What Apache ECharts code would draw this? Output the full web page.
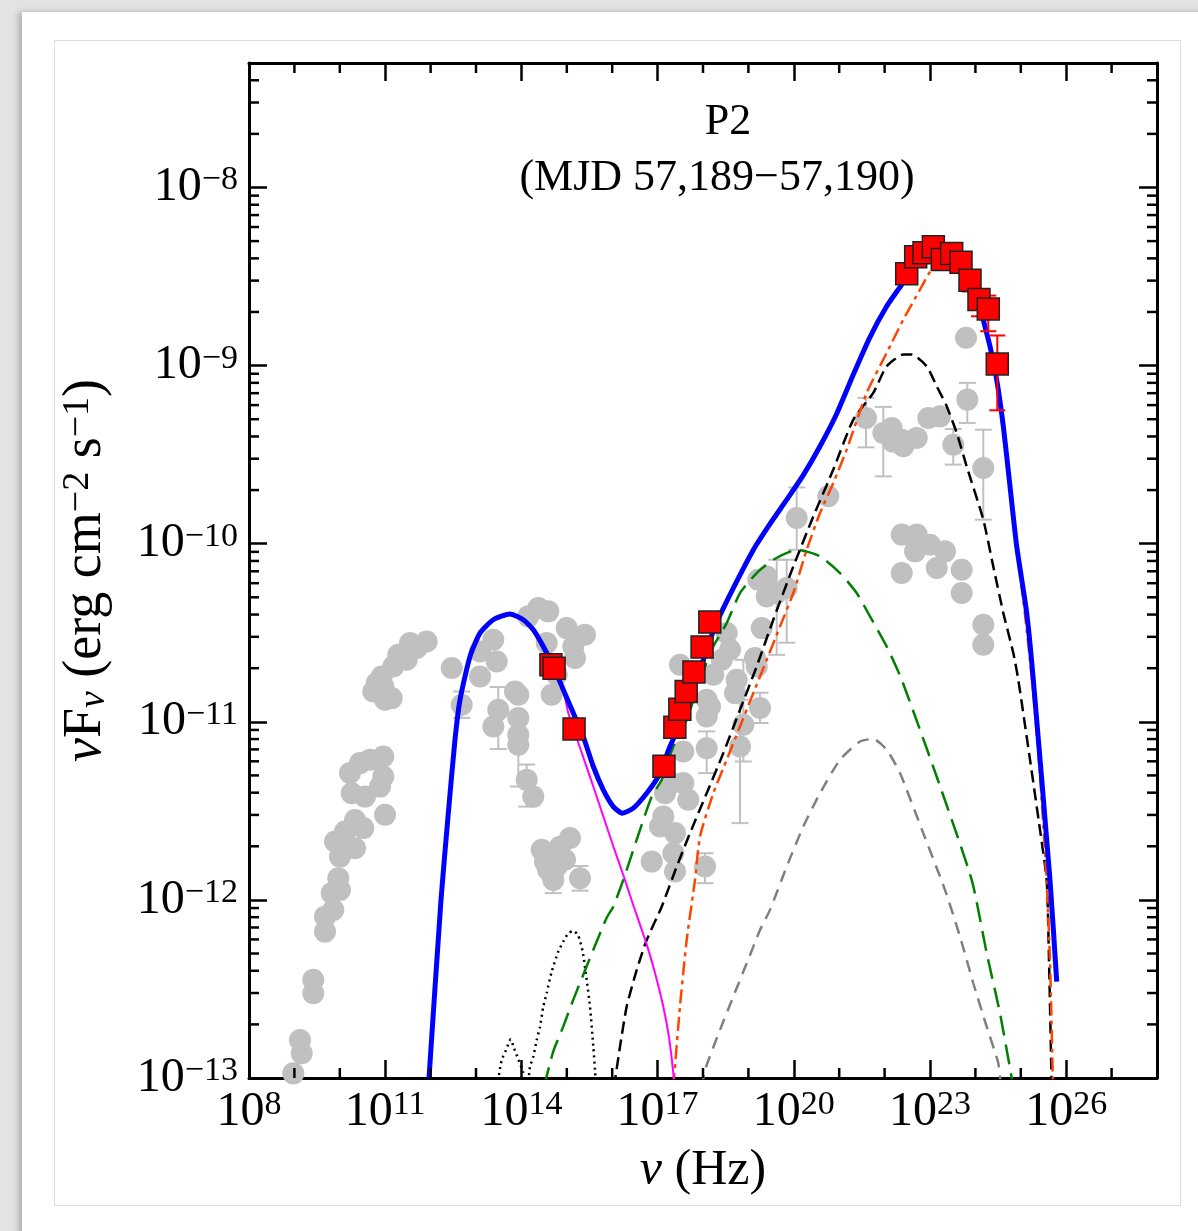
<!DOCTYPE html>
<html><head><meta charset="utf-8">
<script src="https://cdn.jsdelivr.net/npm/echarts@6/dist/echarts.min.js"></script>
<style>
html,body{margin:0;padding:0;width:1198px;height:1231px;overflow:hidden;background:#e3e3e3;}
#card{position:absolute;left:22px;top:12px;width:1200px;height:1240px;background:#fff;box-shadow:-4px 0 6px rgba(0,0,0,0.22);}
#frame{position:absolute;left:54px;top:40px;width:1125px;height:1164px;border:1px solid #dcdcdc;}
#chart{position:absolute;left:0;top:0;width:1198px;height:1231px;}
</style></head>
<body><div id="card"></div><div id="frame"></div><div id="chart"></div>
<script>
// ---- data (log10(nu [Hz]), log10(nuFnu [erg cm^-2 s^-1])) ----
const blueModel = [[11.965,-13.0],[12.229,-12.0],[12.390,-11.513],[12.537,-11.101],[12.648,-10.876],[12.868,-10.633],[13.088,-10.502],[13.381,-10.427],[13.749,-10.395],[14.042,-10.427],[14.262,-10.483],[14.482,-10.577],[14.703,-10.689],[14.923,-10.820],[15.143,-10.951],[15.363,-11.083],[15.584,-11.251],[15.804,-11.382],[16.024,-11.476],[16.222,-11.513],[16.465,-11.485],[16.760,-11.401],[17.015,-11.307],[17.273,-11.139],[17.566,-10.970],[17.934,-10.708],[18.264,-10.465],[18.667,-10.250],[19.108,-10.035],[19.476,-9.889],[19.844,-9.753],[20.209,-9.615],[20.577,-9.453],[20.945,-9.270],[21.311,-9.050],[21.678,-8.840],[22.046,-8.667],[22.377,-8.545],[22.670,-8.433],[23.066,-8.348],[23.441,-8.375],[23.771,-8.461],[24.057,-8.601],[24.174,-8.742],[24.322,-8.892],[24.469,-9.079],[24.615,-9.341],[24.762,-9.678],[24.910,-10.015],[25.130,-10.389],[25.275,-10.764],[25.643,-11.888],[25.791,-12.459]];
const synModel = [[11.965,-13.0],[12.229,-12.0],[12.390,-11.513],[12.537,-11.101],[12.648,-10.876],[12.868,-10.633],[13.088,-10.502],[13.381,-10.427],[13.749,-10.395],[14.042,-10.427],[14.262,-10.483],[14.482,-10.577],[14.703,-10.689],[14.923,-10.820],[15.033,-10.951],[15.584,-11.363],[16.024,-11.699],[16.244,-11.860],[16.465,-12.030],[16.760,-12.250],[16.943,-12.410],[17.126,-12.600],[17.250,-12.770],[17.346,-12.974],[17.361,-13.05]];
const diskModel = [[13.463,-13.05],[13.566,-12.899],[13.661,-12.843],[13.764,-12.783],[13.837,-12.833],[13.932,-12.895],[14.035,-12.966],[14.079,-13.05],[14.13,-13.05],[14.189,-12.937],[14.262,-12.880],[14.337,-12.787],[14.410,-12.712],[14.482,-12.599],[14.557,-12.524],[14.667,-12.403],[14.813,-12.290],[14.923,-12.234],[15.033,-12.187],[15.143,-12.174],[15.247,-12.197],[15.350,-12.290],[15.438,-12.449],[15.511,-12.599],[15.584,-12.824],[15.621,-12.955],[15.643,-13.05]];
const sscModel = [[14.498,-13.05],[14.703,-12.85],[14.923,-12.71],[15.143,-12.56],[15.363,-12.42],[15.584,-12.28],[15.879,-12.10],[16.024,-12.038],[16.244,-11.888],[16.612,-11.607],[16.870,-11.420],[17.090,-11.326],[17.346,-11.139],[17.641,-10.989],[17.934,-10.764],[18.227,-10.577],[18.522,-10.446],[18.815,-10.277],[19.183,-10.165],[19.548,-10.090],[20.064,-10.034],[20.577,-10.071],[21.018,-10.165],[21.385,-10.277],[21.678,-10.408],[22.046,-10.577],[22.377,-10.764],[23.15,-11.31],[23.918,-11.888],[24.249,-12.299],[24.542,-12.637],[24.835,-13.05]];
const ecBlrModel = [[16.040,-13.05],[16.172,-12.824],[16.319,-12.599],[16.540,-12.393],[16.760,-12.225],[17.090,-12.038],[17.421,-11.813],[17.714,-11.625],[18.081,-11.401],[18.447,-11.176],[18.815,-10.933],[19.183,-10.689],[19.548,-10.427],[19.989,-10.128],[20.430,-9.847],[20.870,-9.584],[21.311,-9.303],[21.751,-9.153],[22.046,-9.004],[22.412,-8.938],[22.597,-8.938],[22.927,-9.004],[23.148,-9.116],[23.368,-9.228],[23.588,-9.378],[23.808,-9.566],[24.174,-9.865],[24.394,-10.128],[24.615,-10.389],[24.835,-10.614],[24.945,-10.764],[25.203,-11.213],[25.423,-11.607],[25.570,-11.888],[25.621,-12.337],[25.680,-13.05]];
const ecDtModel = [[17.346,-13.05],[17.493,-12.599],[17.641,-12.225],[17.824,-11.888],[17.934,-11.644],[18.227,-11.401],[18.522,-11.213],[18.815,-11.026],[19.108,-10.839],[19.403,-10.652],[19.696,-10.465],[19.989,-10.277],[20.284,-10.034],[20.577,-9.828],[20.870,-9.659],[21.165,-9.472],[21.606,-9.153],[22.046,-8.929],[22.412,-8.742],[22.780,-8.573],[23.073,-8.442],[23.330,-8.375],[23.661,-8.416],[23.991,-8.573],[24.211,-8.770],[24.432,-9.051],[24.608,-9.360],[24.762,-9.697],[24.916,-10.022],[25.093,-10.399],[25.269,-10.820],[25.423,-11.298],[25.555,-11.831],[25.643,-12.337],[25.709,-13.05]];
const ecDiskModel = [[17.978,-13.05],[18.044,-12.955],[18.374,-12.730],[18.667,-12.543],[18.963,-12.356],[19.256,-12.169],[19.476,-12.056],[19.844,-11.813],[20.209,-11.588],[20.577,-11.401],[21.018,-11.213],[21.458,-11.111],[21.751,-11.096],[22.046,-11.157],[22.339,-11.288],[22.824,-11.607],[23.330,-11.944],[23.661,-12.206],[23.954,-12.468],[24.249,-12.712],[24.504,-12.917],[24.564,-13.05]];

const archivePoints = [
 [11.914,-10.549],[11.694,-10.586],[11.546,-10.558],[11.289,-10.624],[11.474,-10.652],[11.178,-10.689],[10.923,-10.746],[10.813,-10.783],[10.738,-10.830],[10.996,-10.876],[11.143,-10.867],[10.958,-10.802],[12.465,-10.698],[12.685,-10.904],
 [10.958,-11.195],[10.665,-11.213],[10.445,-11.232],[10.225,-11.288],[10.262,-11.401],[10.555,-11.420],[10.885,-11.364],[10.958,-11.307],[10.996,-11.522],[10.335,-11.551],[10.518,-11.597],[10.115,-11.616],[9.894,-11.672],[10.335,-11.710],[10.004,-11.757],[9.967,-11.878],[10.004,-11.944],[9.822,-11.962],[9.857,-12.056],[9.674,-12.094],[9.674,-12.178],[9.416,-12.449],[9.416,-12.524],[9.123,-12.787],[9.161,-12.861],[8.976,-12.974],
 [13.088,-10.746],[13.381,-10.539],[13.088,-10.605],[13.456,-10.661],[14.372,-10.361],[14.592,-10.380],[14.152,-10.408],[14.557,-10.558],[14.998,-10.474],[15.401,-10.511],[15.143,-10.577],[15.181,-10.642],[14.778,-10.736],[14.667,-10.848],[13.859,-10.830],[13.932,-10.848],[13.491,-10.933],[13.381,-11.026],[13.932,-10.979],[13.932,-11.073],[13.932,-11.129],[14.117,-11.326],[14.262,-11.420],[14.447,-11.719],[14.630,-11.757],[14.778,-11.813],[14.703,-11.888],[15.070,-11.653],[14.850,-11.701],[15.291,-11.878],[14.960,-11.775],[14.520,-11.787],[14.586,-11.831],
 [19.218,-10.202],[19.403,-10.184],[19.844,-10.249],[19.403,-10.296],[19.293,-10.474],[18.522,-10.502],[18.595,-10.596],[17.493,-10.680],[18.412,-10.652],[19.145,-10.642],[19.183,-10.689],[18.227,-10.736],[18.742,-10.764],[18.081,-10.876],[18.705,-10.839],[18.154,-10.914],[19.256,-10.923],[18.081,-10.970],[18.888,-11.017],[17.566,-11.167],[18.081,-11.148],[18.815,-11.139],[17.311,-11.344],[17.566,-11.344],[17.676,-11.438],[17.163,-11.401],[17.126,-11.532],[17.053,-11.588],[17.383,-11.625],[17.346,-11.738],[16.870,-11.785],[17.383,-11.841],[18.044,-11.813],[19.623,-10.277],
 [20.064,-9.856],[20.760,-9.734],[21.590,-9.294],[21.971,-9.378],[22.156,-9.350],[22.377,-9.416],[22.707,-9.406],[22.412,-9.453],[22.185,-9.427],[22.963,-9.294],[23.220,-9.285],[23.513,-9.444],[23.793,-8.844],[23.822,-9.191],[24.174,-9.575],
 [22.377,-9.949],[22.707,-9.949],[23.000,-10.006],[23.330,-10.043],[22.670,-10.043],[22.377,-10.165],[23.148,-10.137],[23.698,-10.146],[23.698,-10.277],[24.174,-10.455],[24.174,-10.567]
];
// [log nu, log low, log high]
const archiveErrors = [[12.685,-10.978,-10.830],[13.491,-11.153,-10.805],[13.932,-11.363,-10.978],[14.117,-11.476,-11.24],[14.703,-11.962,-11.82],[15.291,-11.948,-11.81],[19.256,-11.007,-10.837],[18.888,-11.223,-10.652],[18.081,-11.288,-11.054],[18.815,-11.569,-10.876],[18.044,-11.906,-11.738],[19.623,-10.624,-10.090],[19.844,-10.556,-10.090],[20.064,-10.034,-9.684],[21.590,-9.459,-9.181],[21.971,-9.622,-9.232],[23.513,-9.556,-9.356],[23.822,-9.322,-9.097],[24.174,-9.865,-9.360]];
const p2Points = [[14.65,-10.68],[14.72,-10.70],[15.16,-11.04],[17.14,-11.25],[17.38,-11.03],[17.49,-10.93],[17.63,-10.83],[17.80,-10.72],[17.98,-10.58],[18.15,-10.44],[22.487,-8.485],[22.685,-8.389],[22.868,-8.367],[23.073,-8.333],[23.271,-8.404],[23.478,-8.371],[23.683,-8.420],[23.881,-8.521],[24.079,-8.629],[24.284,-8.682],[24.482,-8.991]];
const p2Errors = [[23.881,-8.584,-8.472],[24.079,-8.723,-8.577],[24.284,-8.807,-8.607],[24.482,-9.251,-8.831]];

// axis ranges and ticks
const X_MIN = 1e8, X_MAX = 1e28, Y_MIN = 1e-13, Y_MAX = 5e-8;
const xMinorTicks = [1e9,1e10,1e12,1e13,1e15,1e16,1e18,1e19,1e21,1e22,1e24,1e25,1e27];
const yMinorTicks = [];
[-13,-12,-11,-10,-9,-8].forEach(e => [2,3,4,5,6,7,8,9].forEach(k => { const v = k*Math.pow(10,e); if (v < Y_MAX*0.99) yMinorTicks.push(v); }));

const P = a => a.map(p => [Math.pow(10,p[0]), Math.pow(10,p[1])]);
const PE = a => a.map(p => [Math.pow(10,p[0]), Math.pow(10,p[1]), Math.pow(10,p[2])]);

const FONT = '"Liberation Serif", "DejaVu Serif", serif';
const labRich = {
  b:{fontFamily:FONT, fontSize:48, lineHeight:48, verticalAlign:'bottom', color:'#000'},
  s:{fontFamily:FONT, fontSize:34, lineHeight:6, verticalAlign:'top', color:'#000'}
};
function expLabel(v, keep){
  const l = Math.log10(v), e = Math.round(l);
  if (Math.abs(l-e) > 1e-6 || !keep(e)) return '';
  return '{b|10}{s|' + (e<0 ? '\u2212'+(-e) : e) + '}';
}
function makeRich(fs, fsSmall){
  return {
    n:{fontFamily:FONT, fontSize:fs, lineHeight:fs, verticalAlign:'bottom', color:'#000'},
    i:{fontFamily:FONT, fontSize:fs, lineHeight:fs, fontStyle:'italic', verticalAlign:'bottom', color:'#000'},
    sub:{fontFamily:FONT, fontSize:fsSmall, lineHeight:Math.round(fs*0.36), fontStyle:'italic', verticalAlign:'bottom', color:'#000'},
    sup:{fontFamily:FONT, fontSize:fsSmall, lineHeight:Math.round(fs*0.4), verticalAlign:'top', color:'#000'}
  };
}

function line(data, color, width, type, z){
  return {type:'line', data:P(data), showSymbol:false, symbol:'none', smooth:0.2, silent:true, z:z,
    lineStyle:{color:color, width:width, type:type, cap:'butt'}, clip:true};
}
function errBars(data, color, capW, z){
  return {type:'custom', data:PE(data), encode:{x:0, y:[1,2]}, z:z, silent:true, clip:true,
    renderItem:(p, api) => {
      const x = api.value(0), a = api.coord([x, api.value(1)]), b = api.coord([x, api.value(2)]);
      const st = {stroke:color, lineWidth:2};
      return {type:'group', children:[
        {type:'line', shape:{x1:a[0], y1:a[1], x2:b[0], y2:b[1]}, style:st},
        {type:'line', shape:{x1:a[0]-capW/2, y1:a[1], x2:a[0]+capW/2, y2:a[1]}, style:st},
        {type:'line', shape:{x1:b[0]-capW/2, y1:b[1], x2:b[0]+capW/2, y2:b[1]}, style:st}
      ]};
    }};
}

const axisCommon = {
  axisLine:{show:true, onZero:false, lineStyle:{color:'#000', width:3}},
  axisTick:{show:true, inside:true, length:18, lineStyle:{color:'#000', width:2.5}},
  splitLine:{show:false}, minorTick:{show:false}, minorSplitLine:{show:false}
};

const option = {
  animation:false,
  backgroundColor:'transparent',
  grid:{left:249, right:41, top:63, bottom:153, containLabel:false},
  xAxis:[
    Object.assign({type:'log', logBase:10, min:X_MIN, max:X_MAX, interval:3, position:'bottom',
      name:'{i|ν}{n| (Hz)}', nameLocation:'middle', nameGap:68, nameTextStyle:{rich:makeRich(50,35)},
      axisLabel:{show:true, margin:10, showMinLabel:true, showMaxLabel:true, formatter:v => expLabel(v, e => (e-8)%3===0 && e<=26), rich:labRich}}, axisCommon),
    Object.assign({type:'log', logBase:10, min:X_MIN, max:X_MAX, interval:3, position:'top', axisLabel:{show:false}}, axisCommon)
  ],
  yAxis:[
    Object.assign({type:'log', logBase:10, min:Y_MIN, max:Y_MAX, interval:1, position:'left',
      name:'{i|ν}{n|F}{sub|ν}{n| (erg cm}{sup|\u22122}{n| s}{sup|\u22121}{n|)}', nameLocation:'middle', nameGap:136, nameRotate:90,
      nameTextStyle:{rich:makeRich(54,38)},
      axisLabel:{show:true, margin:11, showMinLabel:true, formatter:v => expLabel(v, e => true), rich:labRich}}, axisCommon),
    Object.assign({type:'log', logBase:10, min:Y_MIN, max:Y_MAX, interval:1, position:'right', axisLabel:{show:false}}, axisCommon)
  ],
  graphic:[
    {type:'text', x:728, y:122, style:{text:'P2', font:'44px "Liberation Serif"', fill:'#000', align:'center', verticalAlign:'middle'}},
    {type:'text', x:717, y:178, style:{text:'(MJD 57,189\u221257,190)', font:'44px "Liberation Serif"', fill:'#000', align:'center', verticalAlign:'middle'}}
  ],
  series:[
    errBars(archiveErrors, '#c0c0c0', 17, 1),
    {type:'scatter', data:P(archivePoints), symbol:'circle', symbolSize:22, silent:true, z:2, itemStyle:{color:'#c0c0c0', opacity:1}},
    line(ecDiskModel, '#808080', 2.5, [12,8], 3),
    line(diskModel, '#000000', 2.5, [2,4], 3),
    line(sscModel, '#008000', 2.5, [20,9], 3),
    line(ecBlrModel, '#000000', 2.5, [12,6], 3),
    line(ecDtModel, '#ff4500', 2.5, [14,5,4,5], 3),
    line(synModel, '#ff00ff', 2, 'solid', 3),
    line(blueModel, '#0000ff', 5, 'solid', 4),
    errBars(p2Errors, '#ff0000', 16, 5),
    {type:'scatter', data:P(p2Points), symbol:'rect', symbolSize:22, silent:true, z:6, itemStyle:{color:'#ff0000', opacity:1, borderColor:'#222', borderWidth:1.5}},
    {type:'custom', data:yMinorTicks.map(v => [X_MIN, v]), encode:{x:0, y:1}, z:10, silent:true, clip:false,
      renderItem:(p, api) => {
        const v = api.value(1), a = api.coord([X_MIN, v]), b = api.coord([X_MAX, v]);
        const st = {stroke:'#000', lineWidth:2.5};
        return {type:'group', children:[
          {type:'line', shape:{x1:a[0], y1:a[1], x2:a[0]+10, y2:a[1]}, style:st},
          {type:'line', shape:{x1:b[0], y1:b[1], x2:b[0]-10, y2:b[1]}, style:st}
        ]};
      }},
    {type:'custom', data:xMinorTicks.map(v => [v, Y_MIN]), encode:{x:0, y:1}, z:10, silent:true, clip:false,
      renderItem:(p, api) => {
        const v = api.value(0), a = api.coord([v, Y_MIN]), b = api.coord([v, Y_MAX]);
        const st = {stroke:'#000', lineWidth:2.5};
        return {type:'group', children:[
          {type:'line', shape:{x1:a[0], y1:a[1], x2:a[0], y2:a[1]-10}, style:st},
          {type:'line', shape:{x1:b[0], y1:b[1], x2:b[0], y2:b[1]+10}, style:st}
        ]};
      }}
  ]
};
const chart = echarts.init(document.getElementById('chart'), null, {renderer:'canvas'});
chart.setOption(option);
</script></body></html>
